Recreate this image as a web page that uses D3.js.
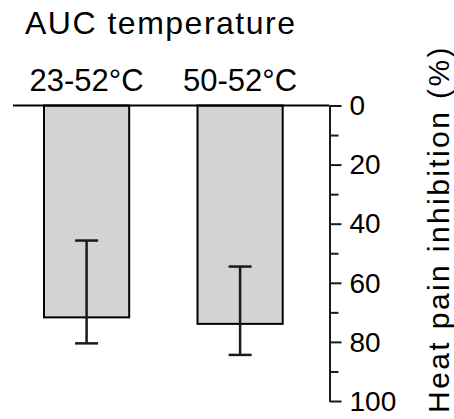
<!DOCTYPE html>
<html>
<head>
<meta charset="utf-8">
<script src="https://cdn.jsdelivr.net/npm/d3@7"></script>
<style>
  html, body { margin: 0; padding: 0; background: #fff; }
  svg { display: block; font-family: "Liberation Sans", Arial, sans-serif; }
</style>
</head>
<body>
<svg id="chart" width="454" height="419"></svg>
<script>
const title = "AUC temperature";
const categories = ["23-52°C", "50-52°C"];
const means = [71.7, 73.9];
const errLow = [45.7, 54.5];
const errHigh = [80.5, 84.4];
const yTicks = [0, 20, 40, 60, 80, 100];
const yLabel = "Heat pain inhibition (%)";

const svg = d3.select("#chart");

const y = d3.scaleLinear().domain([0, 100]).range([105.5, 401]);
const x = d3.scaleBand().domain(categories).range([44, 282.7]).paddingInner(0.445).paddingOuter(0);
const axisX = 329.5;

// title
svg.append("text").attr("x", 25).attr("y", 33.5)
  .attr("font-size", 32).attr("letter-spacing", 1.5).attr("fill", "#000").text(title);

// bars
svg.selectAll("rect.bar").data(categories).join("rect")
  .attr("class", "bar")
  .attr("x", d => x(d))
  .attr("y", y(0))
  .attr("width", x.bandwidth())
  .attr("height", (d, i) => y(means[i]) - y(0))
  .attr("fill", "#d3d3d3")
  .attr("stroke", "#000").attr("stroke-width", 2);

// error bars
const capW = 23;
const eb = svg.selectAll("g.err").data(categories).join("g").attr("class", "err")
  .attr("stroke", "#1a1a1a").attr("stroke-width", 2.5);
eb.append("line")
  .attr("x1", d => x(d) + x.bandwidth() / 2).attr("x2", d => x(d) + x.bandwidth() / 2)
  .attr("y1", (d, i) => y(errLow[i])).attr("y2", (d, i) => y(errHigh[i]));
eb.append("line")
  .attr("x1", d => x(d) + x.bandwidth() / 2 - capW / 2).attr("x2", d => x(d) + x.bandwidth() / 2 + capW / 2)
  .attr("y1", (d, i) => y(errLow[i])).attr("y2", (d, i) => y(errLow[i]));
eb.append("line")
  .attr("x1", d => x(d) + x.bandwidth() / 2 - capW / 2).attr("x2", d => x(d) + x.bandwidth() / 2 + capW / 2)
  .attr("y1", (d, i) => y(errHigh[i])).attr("y2", (d, i) => y(errHigh[i]));

// zero baseline
svg.append("line").attr("x1", 13).attr("x2", axisX).attr("y1", y(0)).attr("y2", y(0))
  .attr("stroke", "#000").attr("stroke-width", 2);

// category labels
svg.selectAll("text.cat").data(categories).join("text")
  .attr("class", "cat")
  .attr("x", d => x(d) + x.bandwidth() / 2)
  .attr("y", 91)
  .attr("text-anchor", "middle")
  .attr("font-size", 31).attr("fill", "#000")
  .text(d => d);

// right axis, minor ticks
const minor = svg.append("g").attr("transform", `translate(${axisX},0)`)
  .call(d3.axisRight(y).tickValues(d3.range(10, 100, 20)).tickSize(9).tickFormat(""));
minor.select(".domain").remove();
minor.selectAll("line").attr("stroke", "#1a1a1a").attr("stroke-width", 2);

const ax = svg.append("g").attr("transform", `translate(${axisX},0)`)
  .call(d3.axisRight(y).tickValues(yTicks).tickSize(12).tickSizeOuter(0).tickPadding(8));
ax.select(".domain").attr("stroke", "#1a1a1a").attr("stroke-width", 2);
ax.selectAll(".tick line").attr("stroke", "#1a1a1a").attr("stroke-width", 2);
ax.selectAll(".tick text").attr("font-size", 28).attr("fill", "#000")
  .attr("font-family", "Liberation Sans, Arial, sans-serif").attr("dy", "0.33em");

// y label
svg.append("text")
  .attr("transform", `translate(449,229) rotate(-90)`)
  .attr("text-anchor", "middle")
  .attr("font-size", 30).attr("fill", "#000")
  .attr("letter-spacing", 2.4)
  .text(yLabel);
</script>
</body>
</html>
